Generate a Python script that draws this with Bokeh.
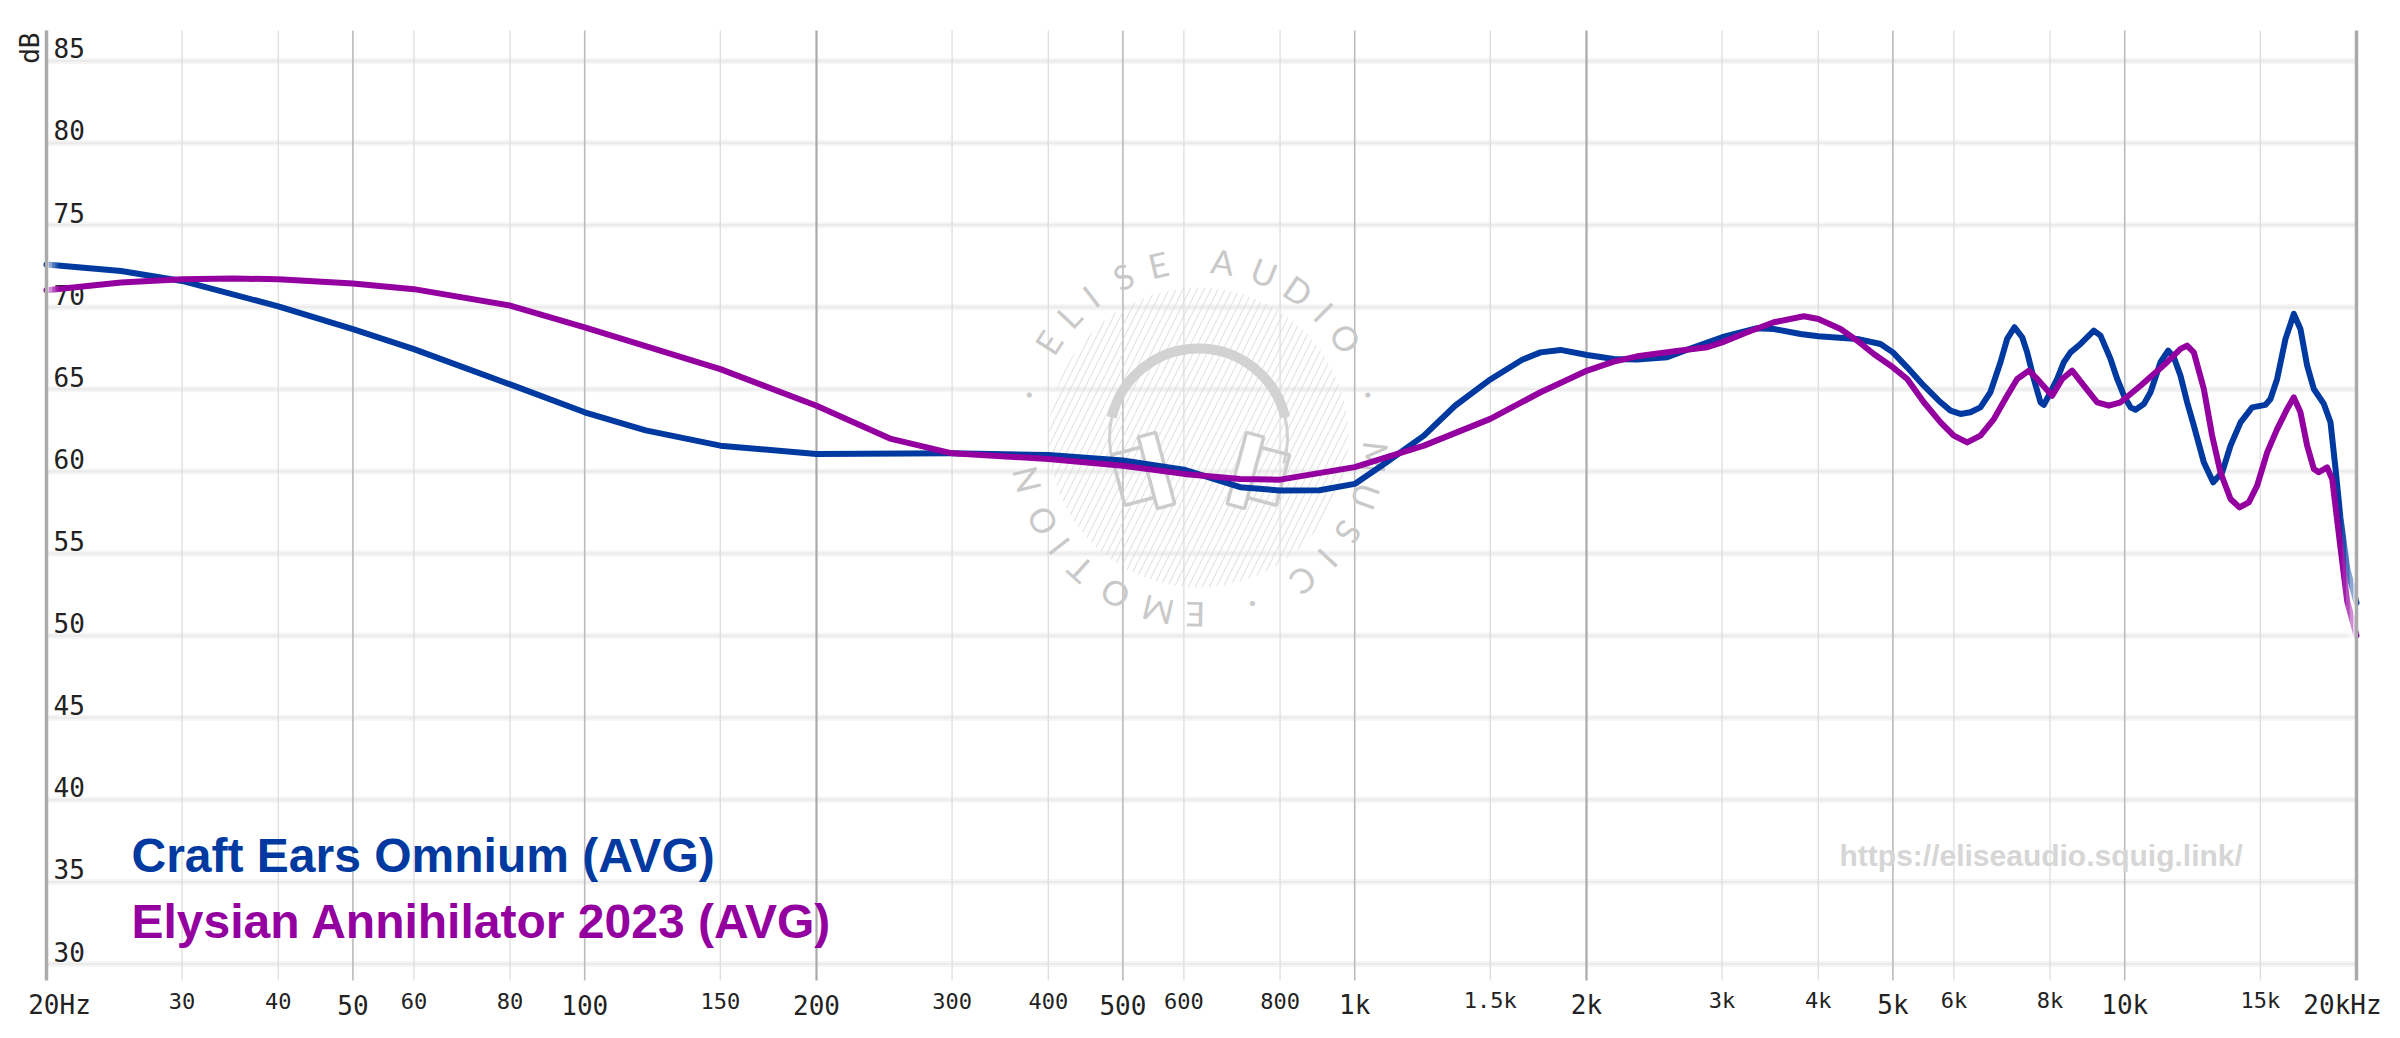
import math
from bokeh.plotting import figure
from bokeh.models import Range1d
from bokeh.core.properties import value
from bokeh.embed import file_html
from bokeh.resources import INLINE

# frequency responses (Hz, dB)
omnium_freq = [20, 25, 30, 40, 50, 60, 80, 100, 120, 150,
               200, 300, 400, 500, 600, 710, 800, 900, 1000, 1100,
               1230, 1350, 1500, 1650, 1743, 1850, 2004, 2170, 2327, 2546,
               2758, 3000, 3331, 3502, 3794, 4000, 4494, 4818, 5000, 5218,
               5484, 5766, 5940, 6118, 6304, 6496, 6692, 6897, 7036, 7192,
               7360, 7470, 7620, 7774, 7852, 8010, 8172, 8336, 8504, 8762,
               9118, 9302, 9584, 9778, 9976, 10176, 10328, 10590, 10802, 11130,
               11388, 11582, 11816, 12052, 12296, 12670, 13028, 13384, 13722, 14140,
               14638, 15234, 15464, 15774, 16174, 16582, 16914, 17256, 17604, 18140,
               18504, 18800, 19060, 19450, 20000]
omnium_db = [72.6, 72.2, 71.6, 70.05, 68.66, 67.45, 65.3, 63.6, 62.5, 61.57,
             61.06, 61.1, 61.0, 60.66, 60.11, 59.04, 58.84, 58.85, 59.24, 60.56,
             62.18, 64.0, 65.6, 66.8, 67.25, 67.4, 67.09, 66.85, 66.81, 66.95,
             67.56, 68.17, 68.72, 68.67, 68.37, 68.23, 68.07, 67.76, 67.25, 66.34,
             65.22, 64.21, 63.7, 63.5, 63.6, 63.9, 64.82, 66.65, 68.07, 68.78,
             68.17, 67.25, 65.63, 64.21, 64.05, 64.82, 65.63, 66.65, 67.25, 67.76,
             68.57, 68.27, 66.85, 65.63, 64.61, 63.9, 63.76, 64.11, 64.82, 66.65,
             67.36, 66.95, 65.83, 64.21, 62.79, 60.55, 59.34, 59.95, 61.57, 62.99,
             63.9, 64.05, 64.41, 65.63, 68.07, 69.59, 68.67, 66.44, 65.02, 64.11,
             62.99, 60.0, 57.2, 54.1, 52.0]

annihilator_freq = [20, 25, 30, 35, 40, 50, 60, 80, 100, 150,
                    200, 250, 300, 400, 500, 600, 710, 800, 1000, 1230,
                    1500, 1743, 1850, 2004, 2170, 2327, 2650, 2870, 3000, 3234,
                    3502, 3831, 4000, 4276, 4494, 4722, 5000, 5218, 5484, 5766,
                    5998, 6243, 6496, 6762, 7036, 7250, 7508, 7698, 8050, 8296,
                    8546, 8850, 9210, 9536, 9876, 10484, 11350, 11816, 12052, 12296,
                    12670, 12988, 13316, 13722, 14094, 14492, 14860, 15312, 15774, 16252,
                    16582, 16914, 17256, 17604, 17866, 18320, 18598, 19060, 19450, 20000]
annihilator_db = [71.03, 71.5, 71.7, 71.75, 71.7, 71.45, 71.1, 70.1, 68.77, 66.23,
                  64.0, 61.98, 61.1, 60.76, 60.35, 59.85, 59.54, 59.5, 60.26, 61.57,
                  63.2, 64.82, 65.39, 66.14, 66.69, 67.01, 67.36, 67.56, 67.86, 68.47,
                  69.08, 69.45, 69.28, 68.67, 67.96, 67.15, 66.34, 65.63, 64.21, 62.99,
                  62.18, 61.77, 62.18, 63.19, 64.61, 65.63, 66.14, 65.63, 64.61, 65.63,
                  66.14, 65.22, 64.21, 64.0, 64.21, 65.22, 66.65, 67.46, 67.66, 67.25,
                  65.02, 62.18, 59.95, 58.32, 57.81, 58.12, 59.13, 61.16, 62.58, 63.8,
                  64.51, 63.6, 61.57, 60.15, 59.95, 60.25, 59.54, 55.4, 52.1, 50.0]

names = ["Craft Ears Omnium (AVG)", "Elysian Annihilator 2023 (AVG)"]

db_ticks = [30, 35, 40, 45, 50, 55, 60, 65, 70, 75, 80, 85]
big_freqs = [20, 50, 100, 200, 500, 1000, 2000, 5000, 10000, 20000]
big_labels = ["20Hz", "50", "100", "200", "500", "1k", "2k", "5k", "10k", "20kHz"]
small_freqs = [30, 40, 60, 80, 150, 300, 400, 600, 800, 1500, 3000, 4000, 6000, 8000, 15000]
small_labels = ["30", "40", "60", "80", "150", "300", "400", "600", "800", "1.5k", "3k", "4k", "6k", "8k", "15k"]
mid_lines = [50, 100, 500, 1000, 5000, 10000]
dark_lines = [200, 2000]

BLUE = "#003aa0"
PURPLE = "#9400a0"
MONO = "DejaVu Sans Mono"

F_MIN, F_MAX = 20, 20000
DB_MIN, DB_MAX = 29.0, 86.85
W, H = 2390, 1030
# plot area inside the canvas, in pixels
LEFT, TOP = 46, 30
PX_DECADE = 2310 / 3
PX_DB = 950 / (DB_MAX - DB_MIN)


# canvas pixel -> data coordinates (for texts and decorations)
def fx(px):
    return F_MIN * 10 ** ((px - LEFT) / PX_DECADE)


def fy(py):
    return DB_MAX - (py - TOP) / PX_DB


p = figure(width=W, height=H, x_axis_type="log",
           x_range=Range1d(fx(0), fx(W)), y_range=Range1d(fy(H), fy(0)),
           x_axis_location=None, y_axis_location=None,
           toolbar_location=None, tools="", output_backend="svg",
           min_border_left=0, min_border_right=0, min_border_top=0, min_border_bottom=0)
p.outline_line_color = None
p.background_fill_color = "white"
p.border_fill_color = "white"
p.xgrid.visible = False
p.ygrid.visible = False

# grid lines, only across the plot area
n = len(db_ticks)
p.segment(x0=[F_MIN] * n, x1=[F_MAX] * n, y0=db_ticks, y1=db_ticks, line_color="#f5f5f5", line_width=6)
p.segment(x0=[F_MIN] * n, x1=[F_MAX] * n, y0=db_ticks, y1=db_ticks, line_color="#ebebeb", line_width=2)
for ticks, color, width in ((small_freqs, "#dddddd", 1.3), (mid_lines, "#bbbbbb", 1.6), (dark_lines, "#aaaaaa", 2.2)):
    p.segment(x0=ticks, x1=ticks, y0=[DB_MIN] * len(ticks), y1=[DB_MAX] * len(ticks),
              line_color=color, line_width=width)

# watermark
cx, cy = 1198, 437
p.scatter(x=[fx(cx)], y=[fy(cy)], size=300, marker="circle", fill_alpha=0, line_color=None,
          hatch_pattern="/", hatch_color="#d9d9d9", hatch_scale=14, hatch_weight=1.2, hatch_alpha=0.7)
p.arc(x=[fx(cx)], y=[fy(cy)], radius=89, radius_units="screen",
      start_angle=math.radians(13), end_angle=math.radians(167), line_width=10, line_color="#d2d2d2")
p.arc(x=[fx(cx)] * 2, y=[fy(cy)] * 2, radius=89, radius_units="screen",
      start_angle=[math.radians(166), math.radians(-17)], end_angle=[math.radians(197), math.radians(14)],
      line_width=3, line_color="#d2d2d2")
p.rect(x=[fx(cx - 63), fx(cx + 67)], y=[fy(cy + 38)] * 2, width=36, height=52,
       width_units="screen", height_units="screen", angle=[math.radians(15), math.radians(-15)],
       fill_alpha=0, line_color="#cccccc", line_width=3.5)
p.rect(x=[fx(cx - 42), fx(cx + 47)], y=[fy(cy + 33)] * 2, width=18, height=74,
       width_units="screen", height_units="screen", angle=[math.radians(15), math.radians(-15)],
       fill_color="white", line_color="#cccccc", line_width=3.5)

wm_chars = list("ELISEAUDIO\u00b7MUSIC\u00b7EMOTION\u00b7")
wm_angles = [147.6, 136.8, 127.3, 115, 103.1, 82.2, 68.3, 55.8, 45, 34, 14.1,
             -6.4, -19.5, -32.3, -43, -53.7, -72,
             -91, -103.2, -118.1, -131.8, -142, -151.9, -166.2, 165.9]
r = 178
p.text(x=[fx(cx + r * math.cos(math.radians(a))) for a in wm_angles],
       y=[fy(cy - r * math.sin(math.radians(a))) for a in wm_angles],
       text=wm_chars, angle=[math.radians(a - 90) for a in wm_angles],
       text_align="center", text_baseline="middle", text_font=value("Lato"),
       text_font_size="34px", text_color="#c9c9c9")

# y tick labels sit inside the plot, just above their grid lines
p.text(x=[F_MIN] * n, y=[t + 12.5 / PX_DB for t in db_ticks], text=[str(t) for t in db_ticks],
       x_offset=7, text_align="left", text_baseline="middle",
       text_font=value(MONO), text_font_size="26px", text_color="#222222")
p.text(x=[fx(29)], y=[fy(32)], text=["dB"], angle=math.pi / 2,
       text_align="right", text_baseline="middle",
       text_font=value(MONO), text_font_size="26px", text_color="#222222")

# curves
p.line(omnium_freq, omnium_db, line_color=BLUE, line_width=6, line_join="round", line_cap="round")
p.line(annihilator_freq, annihilator_db, line_color=PURPLE, line_width=6, line_join="round", line_cap="round")

# fade the curve ends
fade = [0.8, 0.55, 0.3, 0.12]
p.quad(left=[fx(LEFT + i * 3) for i in range(4)], right=[fx(LEFT + i * 3 + 3) for i in range(4)],
       bottom=70.6, top=73.2, fill_color="white", fill_alpha=fade, line_color=None)
p.quad(left=[fx(2356 - i * 3.5 - 3.5) for i in range(4)], right=[fx(2356 - i * 3.5) for i in range(4)],
       bottom=49.0, top=59.0, fill_color="white", fill_alpha=fade, line_color=None)

# edges of the plot area
p.segment(x0=[F_MIN, F_MAX], x1=[F_MIN, F_MAX], y0=[DB_MIN] * 2, y1=[DB_MAX] * 2,
          line_color="#aaaaaa", line_width=3.5)

# legend and site name
p.text(x=[fx(131)] * 2, y=[fy(855), fy(920.5)], text=names, text_color=[BLUE, PURPLE],
       text_align="left", text_baseline="middle", text_font=value("Liberation Sans"),
       text_font_style="bold", text_font_size="48px")
p.text(x=[fx(1839)], y=[fy(855)], text=["https://eliseaudio.squig.link/"], text_color="#d6d6d6",
       text_align="left", text_baseline="middle", text_font=value("Liberation Sans"),
       text_font_style="bold", text_font_size="30px")

# x tick labels
p.text(x=big_freqs, y=[fy(1004)] * len(big_freqs), text=big_labels,
       x_offset=[13, 0, 0, 0, 0, 0, 0, 0, 0, -14],
       text_align="center", text_baseline="middle", text_font=value(MONO),
       text_font_size="26px", text_color="#222222")
p.text(x=small_freqs, y=[fy(1000)] * len(small_freqs), text=small_labels,
       text_align="center", text_baseline="middle", text_font=value(MONO),
       text_font_size="22px", text_color="#222222")

open("out.html", "w").write(file_html(p, INLINE))
